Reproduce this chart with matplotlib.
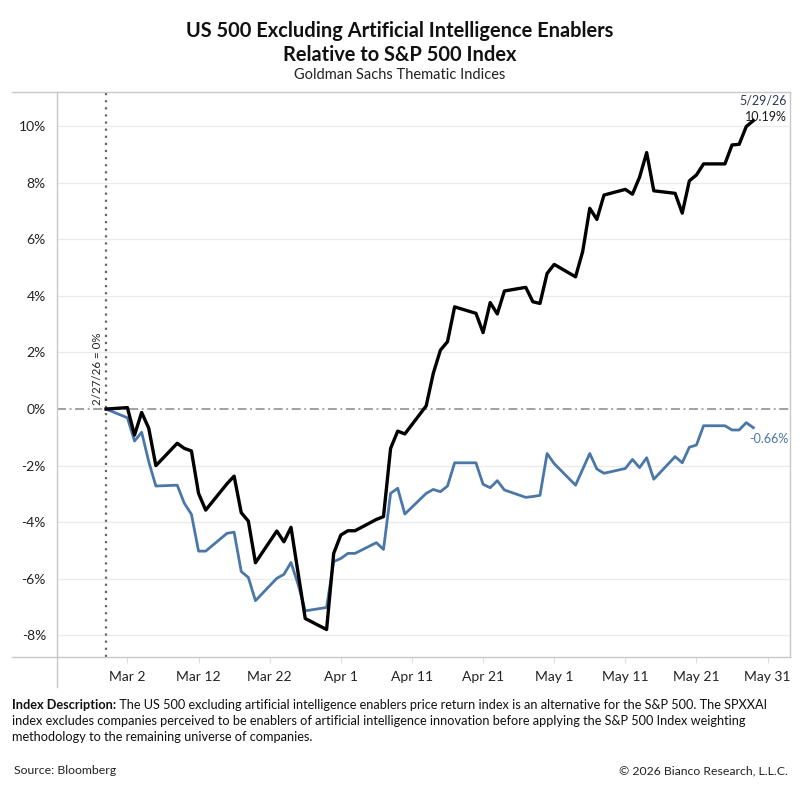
import pandas as pd
import matplotlib.pyplot as plt
import matplotlib.dates as mdates
from matplotlib.lines import Line2D

plt.rcParams['font.family'] = ['Lato', 'DejaVu Sans']

# weekdays from 2/27/26 to 5/29/26 (holidays carried flat)
dates = pd.bdate_range('2026-02-27', '2026-05-29')

# black line: US 500 ex AI enablers relative to S&P 500 (%)
ex_ai = [0.0,
         0.05, -0.92, -0.12, -0.68, -2.00,
         -1.21, -1.39, -1.48, -2.98, -3.57,
         -2.64, -2.37, -3.66, -3.96, -5.43,
         -4.31, -4.69, -4.18, -5.80, -7.40,
         -7.79, -5.10,
         -4.45, -4.30, -4.30,
         -3.90, -3.80, -1.39, -0.78, -0.88,
         0.11, 1.26, 2.08, 2.38, 3.61,
         3.38, 2.70, 3.76, 3.36, 4.17,
         4.30, 3.79, 3.73, 4.79,
         5.11,
         4.67, 5.56, 7.09, 6.70, 7.56,
         7.76, 7.59, 8.19, 9.06, 7.71,
         7.62, 6.92, 8.06, 8.27, 8.66,
         8.66, 9.33, 9.35, 9.98, 10.19]

# blue line (%)
blue_idx = [0.0,
            -0.31, -1.13, -0.82, -1.86, -2.72,
            -2.69, -3.33, -3.72, -5.02, -5.02,
            -4.39, -4.35, -5.74, -5.95, -6.77,
            -5.98, -5.84, -5.42, -6.20, -7.13,
            -7.01, -5.39,
            -5.28, -5.10, -5.10,
            -4.72, -4.96, -2.98, -2.80, -3.71,
            -2.98, -2.84, -2.92, -2.72, -1.90,
            -1.90, -2.66, -2.78, -2.53, -2.86,
            -3.12, -3.09, -3.05, -1.57,
            -1.93,
            -2.69, -2.13, -1.57, -2.12, -2.27,
            -2.10, -1.78, -2.07, -1.72, -2.48,
            -1.68, -1.90, -1.35, -1.27, -0.59,
            -0.59, -0.74, -0.74, -0.48, -0.66]

xticks = pd.date_range('2026-03-02', '2026-05-31', freq='10D')
yticks = [-8, -6, -4, -2, 0, 2, 4, 6, 8, 10]

blue = '#4a77a8'
frame = '#c8c8c8'

fig = plt.figure(figsize=(8, 8), dpi=100)
ax = fig.add_axes([57/800, 1-657/800, 733/800, 565/800])

start = dates[0]
ax.set_xlim(start - pd.Timedelta(days=6.9), start + pd.Timedelta(days=96.15))
ax.set_ylim(-8.76, 11.2)

for y in yticks:
    if y != 0:
        ax.axhline(y, color='#ebebeb', lw=1, zorder=0)
ax.axhline(0, color='#9a9a9a', lw=1.3, ls=(0, (5, 2, 1, 2)), zorder=1)
ax.axvline(start, color='#666666', lw=1.6, ls=(0, (1, 2.2)), zorder=1)

ax.plot(dates, blue_idx, color=blue, lw=2.0, zorder=3)
ax.plot(dates, ex_ai, color='black', lw=2.4, zorder=4)

ax.set_yticks(yticks)
ax.set_yticklabels([f'{v}%' for v in yticks])
ax.set_xticks(xticks)
ax.set_xticklabels([f'{d:%b} {d.day}' for d in xticks])
ax.tick_params(axis='y', length=0, pad=8, labelsize=10, labelcolor='#222222')
ax.tick_params(axis='x', length=4, color='#e0e0e0', pad=6, labelsize=10, labelcolor='#222222')

for s in ax.spines.values():
    s.set_color(frame)
    s.set_linewidth(1)

# frame lines running past the plot area
fig.add_artist(Line2D([12/800, 57/800], [1-92/800, 1-92/800], color=frame, lw=1))
fig.add_artist(Line2D([12/800, 57/800], [1-657/800, 1-657/800], color=frame, lw=1))
fig.add_artist(Line2D([57/800, 57/800], [1-657/800, 1-687/800], color=frame, lw=1))

# end labels
ax.annotate('5/29/26', (dates[-1], ex_ai[-1]), xytext=(24, 10), textcoords='offset points',
            ha='right', va='bottom', fontsize=9, color='#2f3b55')
ax.annotate(f'{ex_ai[-1]:.2f}%', (dates[-1], ex_ai[-1]), xytext=(24, -2), textcoords='offset points',
            ha='right', va='bottom', fontsize=9, color='#1a1a1a')
ax.annotate(f'{blue_idx[-1]:.2f}%', (dates[-1], blue_idx[-1]), xytext=(-3, -8), textcoords='offset points',
            ha='left', va='center', fontsize=9, color=blue)
ax.annotate('2/27/26 = 0%', (start, 0), xytext=(-2, 3), textcoords='offset points',
            ha='right', va='bottom', rotation=90, fontsize=8.3, color='#222222')

fig.text(0.5, 1-31/800, 'US 500 Excluding Artificial Intelligence Enablers', ha='center', va='center',
         fontsize=14.4, fontweight='bold', color='#111111')
fig.text(0.5, 1-55/800, 'Relative to S&P 500 Index', ha='center', va='center',
         fontsize=14.4, fontweight='bold', color='#111111')
fig.text(0.5, 1-75/800, 'Goldman Sachs Thematic Indices', ha='center', va='center',
         fontsize=10.5, color='#222222')

desc = [' The US 500 excluding artificial intelligence enablers price return index is an alternative for the S&P 500. The SPXXAI',
        'index excludes companies perceived to be enablers of artificial intelligence innovation before applying the S&P 500 Index weighting',
        'methodology to the remaining universe of companies.']
fs_desc = 9.2
tb = fig.text(12/800, 1-705/800, 'Index Description:', ha='left', va='center', fontsize=fs_desc,
              fontweight='bold', color='#111111')
fig.canvas.draw()
x1 = tb.get_window_extent(fig.canvas.get_renderer()).x1 / fig.bbox.width
fig.text(x1, 1-705/800, desc[0], ha='left', va='center', fontsize=fs_desc, color='#111111')
fig.text(12/800, 1-721/800, desc[1], ha='left', va='center', fontsize=fs_desc, color='#111111')
fig.text(12/800, 1-737/800, desc[2], ha='left', va='center', fontsize=fs_desc, color='#111111')

fig.text(14/800, 1-771/800, 'Source: Bloomberg', ha='left', va='center', fontsize=8.8, color='#222222')
fig.text(788/800, 1-771/800, '\u00a9 2026 Bianco Research, L.L.C.', ha='right', va='center',
         fontsize=8.8, color='#222222')

fig.savefig('out.png', dpi=100)
